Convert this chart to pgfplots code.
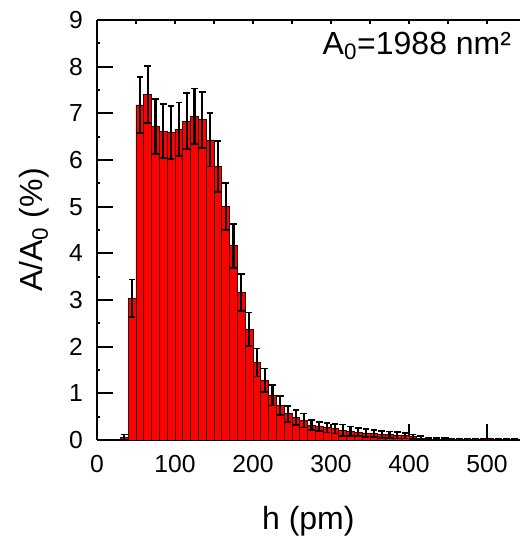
\documentclass[border=0pt]{standalone}
\usepackage{pgfplots}
\pgfplotsset{compat=1.18}
\usepackage{pgfplotstable}
\usepackage{fontspec}
\setmainfont{Liberation Sans}

% h (pm)   A/A0 (%)   error
\pgfplotstableread{
h    a     e
35   0.06  0.06
45   3.04  0.40
55   7.18  0.60
65   7.41  0.61
75   6.72  0.59
85   6.62  0.58
95   6.59  0.57
105  6.66  0.57
115  6.83  0.60
125  6.94  0.59
135  6.86  0.60
145  6.43  0.57
155  5.86  0.55
165  5.00  0.50
175  4.16  0.47
185  3.16  0.40
195  2.37  0.36
205  1.66  0.30
215  1.28  0.25
225  0.96  0.22
235  0.74  0.20
245  0.56  0.17
255  0.48  0.16
265  0.42  0.15
275  0.32  0.11
285  0.29  0.10
295  0.26  0.10
305  0.24  0.10
315  0.21  0.12
325  0.19  0.10
335  0.17  0.09
345  0.15  0.09
355  0.14  0.08
365  0.12  0.08
375  0.11  0.07
385  0.10  0.07
395  0.09  0.06
405  0.07  0.05
415  0.04  0.04
425  0.02  0.02
435  0.02  0.02
445  0.02  0.02
455  0.01  0.02
465  0.01  0.02
475  0.01  0.02
485  0.01  0.02
495  0.01  0.02
505  0.01  0.02
515  0.01  0.01
525  0.01  0.01
535  0.01  0.01
}\hist

\begin{document}
\begin{tikzpicture}
\begin{axis}[
    name=ax,
    scale only axis,
    width=317pt, height=315pt,
    xmin=0, xmax=542,
    ymin=0, ymax=9,
    axis lines*=left,
    axis line style={-, line width=1.5pt},
    xtick={0,100,...,500},
    ytick={0,1,...,9},
    minor x tick num=1,
    minor y tick num=1,
    tick align=inside,
    major tick length=12pt,
    minor tick length=2.5pt,
    tick style={line width=1.5pt, black},
    /pgf/number format/assume math mode=true,
    ticklabel style={font=\fontsize{18.5}{22}\selectfont},
    xticklabel style={yshift=-8pt},
    yticklabel style={xshift=-7pt},
    label style={font=\fontsize{24}{28}\selectfont},
    xlabel={h (pm)},
    ylabel={A/A\textsubscript{0} (\%)},
    xlabel style={yshift=-18pt},
    ylabel style={yshift=8pt},
    clip=true,
]
\addplot[ybar, bar width=10, fill=red, draw=black!80!red, line width=0.6pt,
    error bars/.cd, y dir=both, y explicit,
    error bar style={line width=1.6pt, black},
    error mark options={rotate=90, mark size=2.5pt, line width=1.3pt, black}]
    table[x=h, y=a, y error=e] {\hist};
\node[anchor=east, font=\fontsize{24}{28}\selectfont] at (axis cs:537,8.45) {A\textsubscript{0}=1988 nm²};
\end{axis}
\begin{axis}[
    scale only axis,
    width=317pt, height=315pt,
    xmin=0, xmax=542,
    ymin=0, ymax=9,
    axis x line*=top,
    axis y line=none,
    axis line style={-, line width=1.5pt},
    xtick={0,50,...,550},
    xticklabels={},
    tick align=inside,
    major tick length=3pt,
    tick style={line width=1pt, black},
]
\end{axis}
\pgfresetboundingbox
\path ([xshift=-72.75pt,yshift=-72pt]ax.south west) rectangle ([yshift=15pt]ax.north east);
\end{tikzpicture}
\end{document}
